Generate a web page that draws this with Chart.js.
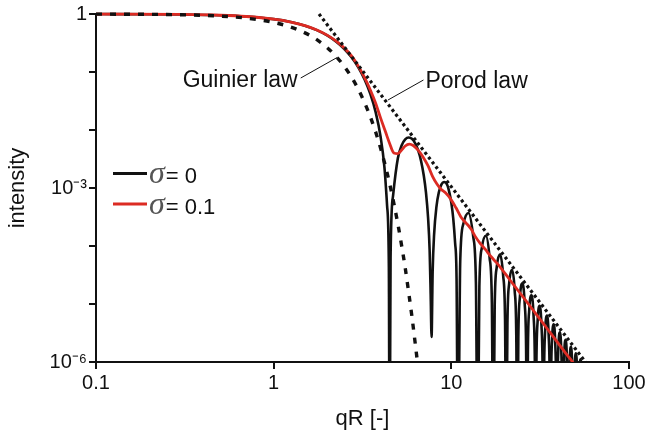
<!DOCTYPE html>
<html><head><meta charset="utf-8">
<script src="https://cdn.jsdelivr.net/npm/chart.js@4.4.1/dist/chart.umd.min.js"></script>
<style>html,body{margin:0;padding:0;background:#fff}</style>
</head><body>
<canvas id="c" width="651" height="434"></canvas>
<script>
// ---- data ----
const blackQR = [0.1,0.2,0.3,0.5,0.7,1.0,1.25,1.5,1.75,2.0,2.25,2.5,2.75,3.0,3.25,3.5,3.75,4.0,4.2,4.35,4.45,4.493,
  4.55,4.7,5.0,5.25,5.5,5.76,6.0,6.25,6.5,6.75,7.0,7.2,7.4,7.55,7.65,7.74,
  7.85,8.0,8.25,8.5,8.8,9.1,9.5,9.75,10.0,10.25,10.5,10.7,10.904,
  11.22,11.69,12.49,13.28,13.75,14.066,
  14.38,14.85,15.64,16.43,16.91,17.221,
  17.54,18.01,18.80,19.58,20.06,20.371,
  20.69,21.16,21.95,22.73,23.20,23.519,
  23.83,24.31,25.09,25.88,26.35,26.666,
  26.98,27.45,28.24,29.03,29.50,29.812,
  30.13,30.60,31.38,32.17,32.64,32.956,
  33.27,33.74,34.53,35.31,35.79,36.100,
  36.41,36.89,37.67,38.46,38.93,39.244,
  39.56,40.03,40.82,41.60,42.07,42.387,
  42.70,43.17,43.96,44.74,45.22,45.530,
  45.84,46.32,47.10,47.89,48.36,48.673,
  48.99,49.46,50.24,51.03,51.50,51.815,
  52.13,52.60,53.39,54.17,54.64,54.957];
const blackI = [0.998,0.992,0.982,0.951,0.906,0.8165,0.727,0.628,0.526,0.4265,0.333,0.2495,0.178,0.1195,0.0745,0.0419,0.0203,0.00758,0.00231,0.000493,0.000042,1e-8,
  0.000063,0.000741,0.003255,0.00541,0.00689,0.00742,0.00704,0.00596,0.00449,0.00296,0.00163,0.000831,0.000302,0.0000828,0.0000148,0.0000027,
  0.0000361,0.000159,0.000482,0.000835,0.001156,0.001268,0.001116,0.000832,0.000554,0.0003,0.0001136,0.0000278,1e-8,
  5.4e-5,2.41e-4,3.70e-4,1.45e-4,2.4e-5,1e-8,
  2.0e-5,9.3e-5,1.50e-4,6.2e-5,1.05e-5,1e-8,
  9.1e-6,4.3e-5,7.2e-5,3.06e-5,5.3e-6,1e-8,
  4.7e-6,2.24e-5,3.88e-5,1.69e-5,2.97e-6,1e-8,
  2.67e-6,1.29e-5,2.27e-5,1.0e-5,1.78e-6,1e-8,
  1.62e-6,7.9e-6,1.415e-5,6.3e-6,1.13e-6,1e-8,
  1.04e-6,5.1e-6,9.28e-6,4.2e-6,7.6e-7,1e-8,
  7.0e-7,3.47e-6,6.33e-6,2.9e-6,5.2e-7,1e-8,
  4.9e-7,2.43e-6,4.47e-6,2.06e-6,3.7e-7,1e-8,
  3.5e-7,1.75e-6,3.24e-6,1.5e-6,2.7e-7,1e-8,
  2.6e-7,1.3e-6,2.41e-6,1.12e-6,2.1e-7,1e-8,
  1.9e-7,9.8e-7,1.83e-6,8.6e-7,1.6e-7,1e-8,
  1.5e-7,7.5e-7,1.41e-6,6.6e-7,1.2e-7,1e-8,
  1.1e-7,5.9e-7,1.11e-6,5.2e-7,1e-7,1e-8];

const redQR = [0.1,0.3,0.5,0.7,1.0,1.25,1.5,1.75,2.0,2.25,2.5,2.75,3.0,3.25,3.5,3.75,4.0,4.25,4.5,4.75,5.0,5.25,5.5,5.8,6.1,6.5,6.9,7.4,7.85,8.3,8.75,9.3,9.9,10.6,11.3,11.8,12.4,13.0,13.6,14.5,15.5,16.7,18,20,22.5,25.7,30,35,40,45,48.2,52];
const redI = [0.998,0.982,0.951,0.905,0.815,0.727,0.63,0.53,0.432,0.34,0.258,0.188,0.125,0.08,0.049,0.029,0.016,0.0095,0.0058,0.0040,0.0039,0.0045,0.0053,0.0057,0.0054,0.0045,0.0035,0.0024,0.00157,0.00117,0.00095,0.00082,0.00065,0.00046,0.00032,0.00027,0.00023,0.00019,0.000148,0.000112,0.000088,0.000066,0.000051,0.000034,0.0000211,0.0000125,0.0000067,0.0000036,0.0000021,0.0000013,0.000001,0.00000074];

const guinierQR = [0.1,0.3,0.5,0.7,1.0,1.25,1.5,1.75,2.0,2.25,2.5,2.75,3.0,3.25,3.5,3.75,4.0,4.25,4.5,4.75,5.0,5.25,5.5,5.75,6.0,6.25,6.45];
const guinierI = [0.9967,0.9704,0.920,0.849,0.7165,0.594,0.4724,0.3604,0.2636,0.185,0.1246,0.0805,0.0498,0.0296,0.0169,0.00924,0.00483,0.00242,0.00117,0.00054,0.00024,0.000102,0.000042,0.000016,0.0000061,0.0000022,0.00000098];

const porodQR = [1.80, 56.9];
const porodI = [1.0, 0.000001];

const xTickValues = [0.1, 1, 10, 100];
const xTickLabels = ['0.1', '1', '10', '100'];
const yTickValues = [1e-6, 1e-5, 1e-4, 1e-3, 1e-2, 1e-1, 1];
const yTickLabels = ['10\u207B\u2076', '', '', '10\u207B\u00B3', '', '', '1'];

const seriesLabels = ['\u03C3= 0', '\u03C3= 0.1'];

// ---- chart ----
const zip = (a, b) => a.map((v, i) => ({x: v, y: b[i]}));
const INK = '#111111';
const RED = '#dc2b23';
const FONT = '"Liberation Sans", Arial, Helvetica, sans-serif';
Chart.defaults.font.family = FONT;
Chart.defaults.color = INK;

const clipTop = {left: 0, top: 5, right: 0, bottom: 0};

const overlay = {
  id: 'overlay',
  afterDatasetsDraw(chart) {
    const {ctx, chartArea: ca, scales: {x, y}} = chart;
    ctx.save();
    // annotation leaders (anchored in data space)
    ctx.strokeStyle = INK; ctx.lineWidth = 1;
    const P = (q, v) => [x.getPixelForValue(q), y.getPixelForValue(v)];
    const g0 = P(1.42, 0.0788), g1 = P(2.285, 0.179);
    const p0 = P(6.97, 0.0728), p1 = P(4.40, 0.0329);
    ctx.beginPath(); ctx.moveTo(g0[0], g0[1]); ctx.lineTo(g1[0], g1[1]); ctx.stroke();
    ctx.beginPath(); ctx.moveTo(p0[0], p0[1]); ctx.lineTo(p1[0], p1[1]); ctx.stroke();
    ctx.fillStyle = INK; ctx.font = '23px ' + FONT; ctx.textBaseline = 'alphabetic';
    ctx.textAlign = 'right'; ctx.fillText('Guinier law', g0[0] - 3, g0[1] + 9);
    ctx.textAlign = 'left'; ctx.fillText('Porod law', p0[0] + 2, p0[1] + 8);

    // legend
    const colors = [INK, RED];
    const rows = [ca.top + 159.5, ca.top + 190];
    rows.forEach((ry, i) => {
      ctx.strokeStyle = colors[i]; ctx.lineWidth = 3;
      ctx.beginPath(); ctx.moveTo(ca.left + 17, ry); ctx.lineTo(ca.left + 51, ry); ctx.stroke();
      const base = ry + 9.5;
      ctx.textAlign = 'left';
      ctx.fillStyle = '#555';
      ctx.font = 'italic 32px "Liberation Serif", "DejaVu Serif", serif';
      const sx = ca.left + 53;
      ctx.fillText(seriesLabels[i].charAt(0), sx, base);
      const w = ctx.measureText(seriesLabels[i].charAt(0)).width;
      ctx.fillStyle = INK;
      ctx.font = '22px ' + FONT;
      ctx.fillText(seriesLabels[i].slice(1), sx + w + 1, base);
    });
    ctx.restore();
  }
};

new Chart(document.getElementById('c').getContext('2d'), {
  type: 'line',
  data: {
    datasets: [
      {label: 'Porod law', data: zip(porodQR, porodI), borderColor: INK, borderWidth: 3.2,
       borderDash: [3, 3], pointRadius: 0, order: 1, clip: clipTop},
      {label: 'Guinier law', data: zip(guinierQR, guinierI), borderColor: INK, borderWidth: 3.4,
       borderDash: [6, 8], pointRadius: 0, cubicInterpolationMode: 'monotone', order: 2, clip: clipTop},
      {label: seriesLabels[1], data: zip(redQR, redI), borderColor: RED, borderWidth: 2.8,
       pointRadius: 0, cubicInterpolationMode: 'monotone', order: 3, clip: clipTop},
      {label: seriesLabels[0], data: zip(blackQR, blackI), borderColor: INK, borderWidth: 2.6,
       pointRadius: 0, cubicInterpolationMode: 'monotone', order: 4, clip: clipTop}
    ]
  },
  options: {
    responsive: false,
    animation: false,
    events: [],
    layout: {padding: {top: 14, right: 22, left: 0, bottom: 0}},
    plugins: {legend: {display: false}, tooltip: {enabled: false}},
    scales: {
      x: {
        type: 'logarithmic', min: 0.1, max: 100,
        afterBuildTicks: s => { s.ticks = xTickValues.map(v => ({value: v})); },
        afterFit: s => { s.height = 72; },
        ticks: {callback: (v, i) => xTickLabels[i], font: {size: 20}, color: INK, padding: 2,
                maxRotation: 0, autoSkip: false},
        grid: {drawOnChartArea: false, drawTicks: true, tickLength: 7, lineWidth: 2, tickWidth: 2, tickColor: INK},
        border: {display: true, color: INK, width: 2},
        title: {display: true, text: 'qR [-]', font: {size: 22}, color: INK, padding: {top: 0, bottom: 2}}
      },
      y: {
        type: 'logarithmic', min: 1e-6, max: 1,
        afterBuildTicks: s => { s.ticks = yTickValues.map(v => ({value: v})); },
        afterFit: s => { s.width = 96; },
        ticks: {callback: (v, i) => yTickLabels[i], font: {size: 20}, color: INK, padding: 2, autoSkip: false},
        grid: {drawOnChartArea: false, drawTicks: true, tickLength: 7, lineWidth: 2, tickWidth: 2, tickColor: INK},
        border: {display: true, color: INK, width: 2},
        title: {display: true, text: 'intensity', font: {size: 22}, color: INK, padding: {top: 5, bottom: 0}}
      }
    }
  },
  plugins: [overlay]
});
</script>
</body></html>
